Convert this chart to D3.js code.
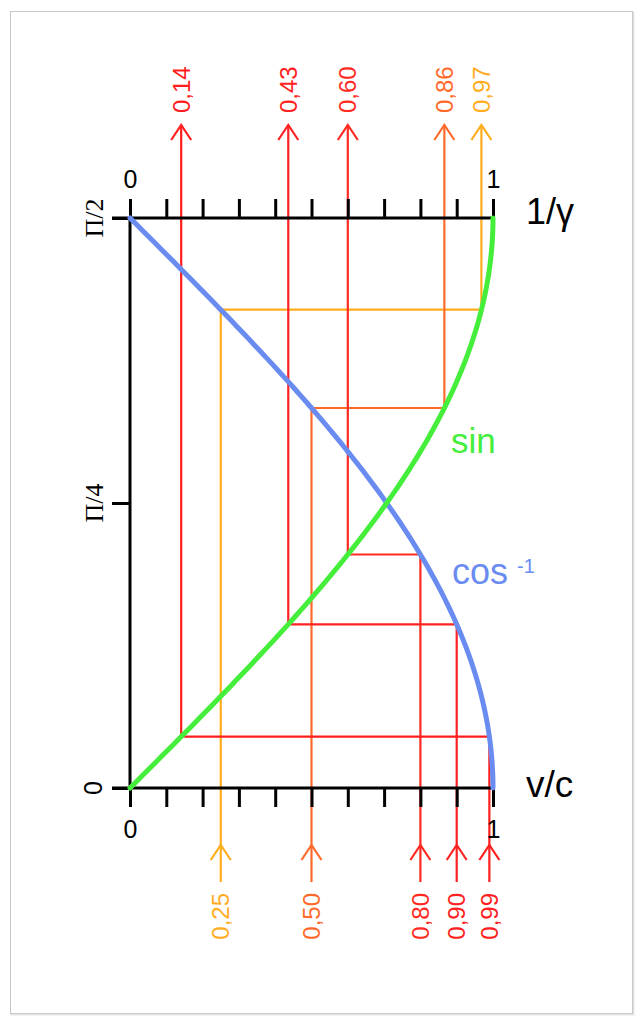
<!DOCTYPE html>
<html><head><meta charset="utf-8">
<script src="https://cdn.jsdelivr.net/npm/d3@7"></script>
<style>
html,body{margin:0;padding:0;background:#fff;}
svg{display:block;}
</style></head>
<body>
<svg id="chart" width="642" height="1024"></svg>
<script>
// ---- data ----
const velocities = [0.25, 0.50, 0.80, 0.90, 0.99];
const velocityLabels = ["0,25", "0,50", "0,80", "0,90", "0,99"];
const invGamma = [0.968, 0.866, 0.600, 0.436, 0.141];
const invGammaLabels = ["0,97", "0,86", "0,60", "0,43", "0,14"];
const pathColors = ["#FFAD1F", "#FF6A2A", "#FF2B22", "#FF2222", "#FF1E1E"];
const xTicks = [0, 0.1, 0.2, 0.3, 0.4, 0.5, 0.6, 0.7, 0.8, 0.9, 1.0];
const xTickLabels = {0: "0", 1: "1"};
const yTicks = [0, Math.PI / 4, Math.PI / 2];
const yTickLabels = ["0", "\u03A0/4", "\u03A0/2"];
const angleSamplesDeg = d3.range(0, 90.5, 1);

const SANS = "'Liberation Sans', Arial, sans-serif";
const SERIF = "'Liberation Serif', 'Times New Roman', serif";

// ---- scales ----
const svg = d3.select("#chart");
const x = d3.scaleLinear().domain([0, 1]).range([130, 493]);
const y = d3.scaleLinear().domain([0, Math.PI / 2]).range([788, 218]);

// frame
svg.append("rect").attr("x", 11.5).attr("y", 12.5).attr("width", 622).attr("height", 1002)
  .attr("fill", "none").attr("stroke", "#e4e4e4").attr("stroke-width", 2);
svg.append("rect").attr("x", 10.5).attr("y", 11.5).attr("width", 622).attr("height", 1002)
  .attr("fill", "#fff").attr("stroke", "#c8c8c8").attr("stroke-width", 1);

const topArrowTip = 125, botArrowTip = 845, botLineEnd = 882;

// ---- colored construction lines ----
const g = svg.append("g");
velocities.forEach((v, i) => {
  const th = Math.acos(v);
  const c = pathColors[i];
  const xv = x(v), xg = x(invGamma[i]), yt = y(th);
  const path = d3.path();
  path.moveTo(xv, botLineEnd);
  path.lineTo(xv, yt);
  path.lineTo(xg, yt);
  path.lineTo(xg, topArrowTip);
  g.append("path").attr("d", path.toString()).attr("fill", "none")
    .attr("stroke", c).attr("stroke-width", 2.2);
  g.append("path").attr("d", `M${xg - 10},${topArrowTip + 15}L${xg},${topArrowTip}L${xg + 10},${topArrowTip + 15}`)
    .attr("fill", "none").attr("stroke", c).attr("stroke-width", 2.2);
  g.append("path").attr("d", `M${xv - 10},${botArrowTip + 15}L${xv},${botArrowTip}L${xv + 10},${botArrowTip + 15}`)
    .attr("fill", "none").attr("stroke", c).attr("stroke-width", 2.2);
  g.append("text").attr("transform", `translate(${xg + 8.5},113) rotate(-90)`)
    .attr("text-anchor", "start").style("font-family", SANS).style("font-size", "24px")
    .attr("fill", c).text(invGammaLabels[i]);
  g.append("text").attr("transform", `translate(${xv + 8.5},893) rotate(-90)`)
    .attr("text-anchor", "end").style("font-family", SANS).style("font-size", "24px")
    .attr("fill", c).text(velocityLabels[i]);
});

// ---- axes ----
function styleAxis(sel) {
  sel.select(".domain").remove();
  sel.selectAll(".tick line").attr("stroke", "#000").attr("stroke-width", 3);
  sel.selectAll(".tick text").attr("fill", "#000").style("font-family", SANS).style("font-size", "25px");
}
const topAxis = d3.axisTop(x).tickValues(xTicks).tickSize(19).tickPadding(11)
  .tickFormat(d => xTickLabels[d] !== undefined ? xTickLabels[d] : "");
svg.append("g").attr("transform", `translate(0,${y(Math.PI / 2)})`).call(topAxis).call(styleAxis);
const botAxis = d3.axisBottom(x).tickValues(xTicks).tickSize(19).tickPadding(13)
  .tickFormat(d => xTickLabels[d] !== undefined ? xTickLabels[d] : "");
svg.append("g").attr("transform", `translate(0,${y(0)})`).call(botAxis).call(styleAxis);

const leftAxis = d3.axisLeft(y).tickValues(yTicks).tickSize(18).tickFormat("");
svg.append("g").attr("transform", `translate(${x(0)},0)`).call(leftAxis).call(styleAxis);
svg.append("line").attr("x1", x(0)).attr("x2", x(0)).attr("y1", y(0)).attr("y2", y(Math.PI / 2))
  .attr("stroke", "#000").attr("stroke-width", 3);
svg.append("line").attr("x1", x(0) - 18).attr("x2", x(1)).attr("y1", y(0)).attr("y2", y(0))
  .attr("stroke", "#000").attr("stroke-width", 3);
svg.append("line").attr("x1", x(0) - 18).attr("x2", x(1)).attr("y1", y(Math.PI / 2)).attr("y2", y(Math.PI / 2))
  .attr("stroke", "#000").attr("stroke-width", 3);
yTicks.forEach((t, i) => {
  const serif = i > 0;
  svg.append("text").attr("transform", `translate(${serif ? 103 : 102},${y(t)}) rotate(-90)`)
    .attr("text-anchor", "middle")
    .style("font-family", serif ? SERIF : SANS)
    .style("font-size", serif ? "26px" : "25px").attr("fill", "#000").text(yTickLabels[i]);
});

// ---- curves ----
const line = d3.line().x(d => x(d[0])).y(d => y(d[1]));
const sinPts = angleSamplesDeg.map(a => { const t = a * Math.PI / 180; return [Math.sin(t), t]; });
const cosPts = angleSamplesDeg.map(a => { const t = a * Math.PI / 180; return [Math.cos(t), t]; });
svg.append("path").attr("d", line(cosPts)).attr("fill", "none").attr("stroke", "#6A8CF0")
  .attr("stroke-width", 5).attr("stroke-linecap", "round");
svg.append("path").attr("d", line(sinPts)).attr("fill", "none").attr("stroke", "#44EE3A")
  .attr("stroke-width", 5).attr("stroke-linecap", "round");

// ---- names ----
svg.append("text").attr("x", 451).attr("y", 453).style("font-family", SANS).style("font-size", "35px")
  .attr("fill", "#44EE3A").text("sin");
const cosT = svg.append("text").attr("x", 452).attr("y", 584).style("font-family", SANS).style("font-size", "36px")
  .attr("fill", "#6A8CF0");
cosT.append("tspan").text("cos");
cosT.append("tspan").attr("x", 517).attr("y", 573).style("font-size", "20px").text("-1");
svg.append("text").attr("x", 526).attr("y", 224).style("font-family", SANS).style("font-size", "36px")
  .attr("fill", "#000").text("1/\u03B3");
svg.append("text").attr("x", 526).attr("y", 797).style("font-family", SANS).style("font-size", "37px")
  .attr("fill", "#000").text("v/c");
</script>
</body></html>
